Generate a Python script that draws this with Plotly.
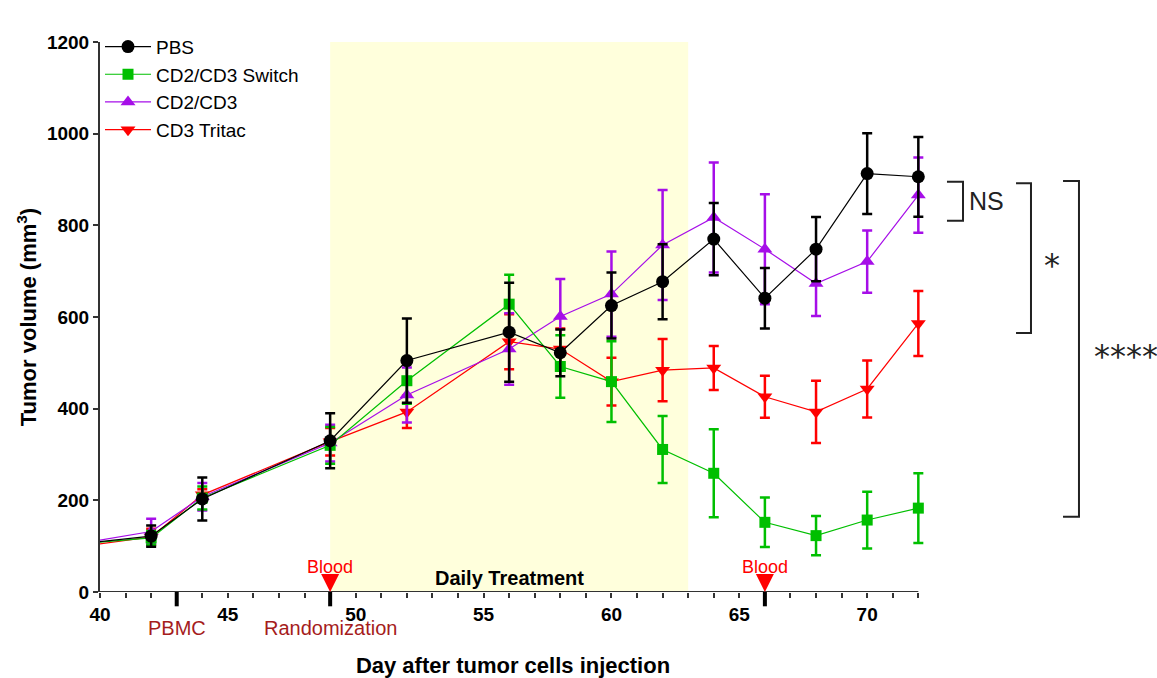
import plotly.graph_objects as go

# Measurement days and group means / SEM (tumor volume, mm^3)
days = [42, 44, 49, 52, 56, 58, 60, 62, 64, 66, 68, 70, 72]

pbs_mean = [122, 203, 330, 505, 567, 522, 625, 677, 770, 641, 748, 913, 906]
pbs_err = [23, 47, 60, 92, 108, 51, 72, 82, 79, 66, 70, 88, 87]

switch_mean = [118, 205, 320, 461, 628, 492, 459, 311, 259, 152, 123, 157, 183]
switch_err = [15, 25, 40, 50, 64, 68, 88, 73, 96, 54, 43, 62, 76]

cd2cd3_mean = [132, 208, 325, 430, 530, 601, 650, 757, 817, 748, 673, 721, 866]
cd2cd3_err = [28, 30, 40, 60, 78, 82, 93, 120, 120, 120, 71, 68, 82]

tritac_mean = [120, 212, 328, 393, 546, 530, 459, 484, 489, 426, 393, 443, 586]
tritac_err = [18, 12, 30, 35, 60, 45, 52, 68, 48, 46, 68, 62, 71]

# Earlier measurement (before the displayed window) so the curves enter from the axis
lead_day = 38
lead_vals = {"PBS": 98, "CD2/CD3 Switch": 100, "CD2/CD3": 94, "CD3 Tritac": 90}

# Study events
treatment_window = [49, 63]
event_days = [43, 49, 66]
event_labels = ["PBMC", "Randomization"]
event_label_days = [43, 49]
blood_days = [49, 66]

# Significance brackets: (top, bottom) in mm^3
sig_brackets = [(895, 810, "NS"), (892, 565, "*"), (897, 164, "****")]

FONT = "Liberation Sans, Arial, sans-serif"
AXIS_COLOR = "#333333"
X_START, X_END = 40, 72

series = [
    ("PBS", pbs_mean, pbs_err, "#000000", "circle", 13),
    ("CD2/CD3 Switch", switch_mean, switch_err, "#00bf00", "square", 11),
    ("CD2/CD3", cd2cd3_mean, cd2cd3_err, "#a60ee8", "triangle-up", 13),
    ("CD3 Tritac", tritac_mean, tritac_err, "#ff0000", "triangle-down", 13),
]

fig = go.Figure()

# Draw red first so black ends up on top; legend order is reversed back
for name, mean, err, color, symbol, size in reversed(series):
    fig.add_trace(go.Scatter(
        x=[lead_day, days[0]], y=[lead_vals[name], mean[0]],
        mode="lines", line=dict(color=color, width=1.2),
        showlegend=False, hoverinfo="skip",
    ))
    fig.add_trace(go.Scatter(
        x=days, y=mean, name=name,
        mode="lines+markers",
        line=dict(color=color, width=1.2),
        marker=dict(symbol=symbol, size=size, color=color),
        error_y=dict(type="data", array=err, visible=True,
                     color=color, thickness=2.5, width=5),
        cliponaxis=False,
    ))

shapes = []
# Treatment period
shapes.append(dict(type="rect", xref="x", yref="y",
                   x0=treatment_window[0], x1=treatment_window[1], y0=0, y1=1200,
                   fillcolor="#ffffdc", line=dict(width=0), layer="below"))
# X axis baseline (stops at the last study day)
shapes.append(dict(type="line", xref="x", yref="y", x0=X_START, x1=X_END, y0=0, y1=0,
                   line=dict(color=AXIS_COLOR, width=2)))
# Thick event ticks under the x axis
for d in event_days:
    shapes.append(dict(type="line", xref="x", yref="paper",
                       x0=d, x1=d, y0=0, y1=-0.026,
                       line=dict(color="black", width=4)))
# Blood-draw arrows sitting on the axis
for d in blood_days:
    shapes.append(dict(type="path", xref="x", yref="y",
                       xsizemode="pixel", ysizemode="pixel",
                       xanchor=d, yanchor=0,
                       path="M-9,18 L9,18 L0,0 Z",
                       fillcolor="#ff0000", line=dict(width=0)))
# Significance brackets
bracket_x = [(1.0254, 1.0448), (1.1090, 1.1271), (1.1659, 1.1852)]
for (top, bot, _), (xa, xb) in zip(sig_brackets, bracket_x):
    shapes.append(dict(type="path", xref="paper", yref="y",
                       path=f"M{xa},{top} L{xb},{top} L{xb},{bot} L{xa},{bot}",
                       line=dict(color="#222222", width=2)))

annotations = []
for d, lab in zip(event_label_days, event_labels):
    annotations.append(dict(x=d, y=-0.066, xref="x", yref="paper", text=lab,
                            xanchor="center", yanchor="middle", showarrow=False,
                            font=dict(family=FONT, size=20, color="#a51c1c")))
for d in blood_days:
    annotations.append(dict(x=d, y=0.046, xref="x", yref="paper", text="Blood",
                            xanchor="center", yanchor="middle", showarrow=False,
                            font=dict(family=FONT, size=18, color="#ff0000")))
annotations.append(dict(x=56, y=0.026, xref="x", yref="paper", text="<b>Daily Treatment</b>",
                        xanchor="center", yanchor="middle", showarrow=False,
                        font=dict(family=FONT, size=20, color="black")))
label_x = [1.0738, 1.1525, 1.2421]
label_font = [(FONT, 25, 0), ("DejaVu Sans", 32, -7), ("DejaVu Sans", 32, -7)]
for (top, bot, txt), lx, (fam, fs, ys) in zip(sig_brackets, label_x, label_font):
    annotations.append(dict(x=lx, y=(top + bot) / 2, xref="paper", yref="y", text=txt,
                            xanchor="center", yanchor="middle", yshift=ys, showarrow=False,
                            font=dict(family=fam, size=fs, color="#222222")))

fig.update_layout(
    width=1157, height=678,
    margin=dict(l=100, r=231, t=42, b=86),
    plot_bgcolor="white", paper_bgcolor="white",
    font=dict(family=FONT, color="black"),
    showlegend=True,
    legend=dict(x=0.0, y=1.026, xanchor="left", yanchor="top",
                traceorder="reversed", bgcolor="rgba(0,0,0,0)", itemwidth=46,
                font=dict(family=FONT, size=19, color="black")),
    shapes=shapes,
    annotations=annotations,
    xaxis=dict(
        range=[X_START, X_END + 0.3], tickvals=[40, 45, 50, 55, 60, 65, 70],
        showline=False, automargin=False,
        ticks="outside", ticklen=5, tickwidth=1.5, tickcolor=AXIS_COLOR,
        minor=dict(tickvals=list(range(X_START, X_END + 1)), ticks="outside",
                   ticklen=5, tickwidth=1.5, tickcolor=AXIS_COLOR),
        showgrid=False, zeroline=False,
        tickfont=dict(family=FONT, size=19, color="black", weight="bold"),
        title=dict(text="<b>Day after tumor cells injection</b>", standoff=34,
                   font=dict(family=FONT, size=22, color="black")),
    ),
    yaxis=dict(
        range=[0, 1200], dtick=200, automargin=False,
        showline=True, linecolor=AXIS_COLOR, linewidth=2,
        ticks="outside", ticklen=5, tickwidth=1.5, tickcolor=AXIS_COLOR,
        showgrid=False, zeroline=False,
        tickfont=dict(family=FONT, size=19, color="black", weight="bold"),
        title=dict(text="<b>Tumor volume (mm<sup>3</sup>)</b>", standoff=4,
                   font=dict(family=FONT, size=22, color="black")),
    ),
)

fig.write_html("out.html")
